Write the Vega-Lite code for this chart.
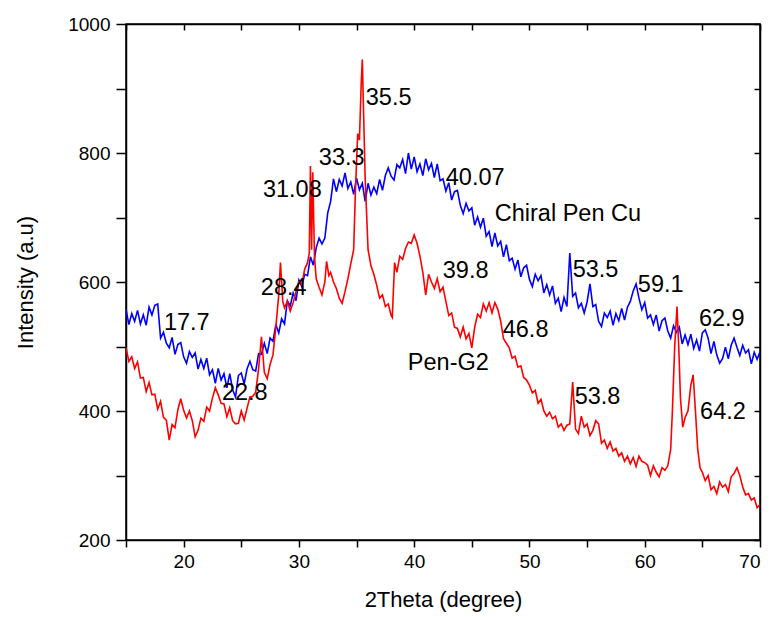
{
  "$schema": "https://vega.github.io/schema/vega-lite/v6.json",
  "width": 634,
  "height": 516,
  "autosize": {"type": "none"},
  "padding": {"left": 126, "top": 24, "right": 15, "bottom": 77},
  "background": "white",
  "config": {
    "font": "Liberation Sans",
    "view": {"stroke": "black", "strokeWidth": 1.5},
    "axis": {"grid": false, "domainColor": "black", "domainWidth": 1.5, "tickColor": "black", "tickWidth": 1.5, "labelColor": "black", "titleColor": "black", "labelFont": "Liberation Sans", "titleFont": "Liberation Sans", "titleFontWeight": "normal", "labelFontSize": 19, "titleFontSize": 22}
  },
  "datasets": {
    "blue": [
      {"x":15.00,"y":558},{"x":15.25,"y":534},{"x":15.50,"y":551},{"x":15.75,"y":539},{"x":16.00,"y":556},{"x":16.25,"y":535},{"x":16.50,"y":549},{"x":16.75,"y":533},{"x":17.00,"y":561},{"x":17.25,"y":549},{"x":17.50,"y":564},{"x":17.75,"y":566},{"x":18.00,"y":513},{"x":18.25,"y":522},{"x":18.50,"y":505},{"x":18.75,"y":498},{"x":19.00,"y":514},{"x":19.25,"y":488},{"x":19.50,"y":503},{"x":19.75,"y":506},{"x":20.00,"y":484},{"x":20.25,"y":474},{"x":20.50,"y":492},{"x":20.75,"y":483},{"x":21.00,"y":490},{"x":21.25,"y":465},{"x":21.50,"y":480},{"x":21.75,"y":466},{"x":22.00,"y":482},{"x":22.25,"y":456},{"x":22.50,"y":464},{"x":22.75,"y":443},{"x":23.00,"y":466},{"x":23.25,"y":448},{"x":23.50,"y":458},{"x":23.75,"y":436},{"x":24.00,"y":458},{"x":24.25,"y":433},{"x":24.50,"y":422},{"x":24.75,"y":455},{"x":25.00,"y":459},{"x":25.25,"y":442},{"x":25.50,"y":465},{"x":25.75,"y":477},{"x":26.00,"y":464},{"x":26.25,"y":462},{"x":26.50,"y":489},{"x":26.75,"y":488},{"x":27.00,"y":505},{"x":27.25,"y":489},{"x":27.50,"y":513},{"x":27.75,"y":508},{"x":28.00,"y":534},{"x":28.25,"y":521},{"x":28.50,"y":543},{"x":28.75,"y":535},{"x":29.00,"y":571},{"x":29.25,"y":563},{"x":29.50,"y":583},{"x":29.75,"y":571},{"x":30.00,"y":603},{"x":30.25,"y":593},{"x":30.50,"y":612},{"x":30.75,"y":610},{"x":31.00,"y":639},{"x":31.25,"y":626},{"x":31.50,"y":653},{"x":31.75,"y":668},{"x":32.00,"y":659},{"x":32.25,"y":668},{"x":32.50,"y":707},{"x":32.75,"y":725},{"x":33.00,"y":760},{"x":33.25,"y":740},{"x":33.50,"y":759},{"x":33.75,"y":749},{"x":34.00,"y":769},{"x":34.25,"y":745},{"x":34.50,"y":755},{"x":34.75,"y":736},{"x":35.00,"y":761},{"x":35.25,"y":743},{"x":35.50,"y":753},{"x":35.75,"y":725},{"x":36.00,"y":753},{"x":36.25,"y":735},{"x":36.50,"y":747},{"x":36.75,"y":737},{"x":37.00,"y":759},{"x":37.25,"y":742},{"x":37.50,"y":765},{"x":37.75,"y":777},{"x":38.00,"y":764},{"x":38.25,"y":758},{"x":38.50,"y":782},{"x":38.75,"y":777},{"x":39.00,"y":790},{"x":39.25,"y":768},{"x":39.50,"y":800},{"x":39.75,"y":775},{"x":40.00,"y":794},{"x":40.25,"y":771},{"x":40.50,"y":783},{"x":40.75,"y":765},{"x":41.00,"y":791},{"x":41.25,"y":774},{"x":41.50,"y":784},{"x":41.75,"y":762},{"x":42.00,"y":783},{"x":42.25,"y":757},{"x":42.50,"y":760},{"x":42.75,"y":741},{"x":43.00,"y":754},{"x":43.25,"y":727},{"x":43.50,"y":740},{"x":43.75,"y":742},{"x":44.00,"y":719},{"x":44.25,"y":706},{"x":44.50,"y":722},{"x":44.75,"y":710},{"x":45.00,"y":715},{"x":45.25,"y":688},{"x":45.50,"y":701},{"x":45.75,"y":685},{"x":46.00,"y":699},{"x":46.25,"y":671},{"x":46.50,"y":678},{"x":46.75,"y":655},{"x":47.00,"y":676},{"x":47.25,"y":656},{"x":47.50,"y":663},{"x":47.75,"y":639},{"x":48.00,"y":658},{"x":48.25,"y":633},{"x":48.50,"y":637},{"x":48.75,"y":620},{"x":49.00,"y":634},{"x":49.25,"y":608},{"x":49.50,"y":622},{"x":49.75,"y":626},{"x":50.00,"y":604},{"x":50.25,"y":593},{"x":50.50,"y":612},{"x":50.75,"y":602},{"x":51.00,"y":610},{"x":51.25,"y":583},{"x":51.50,"y":596},{"x":51.75,"y":580},{"x":52.00,"y":594},{"x":52.25,"y":567},{"x":52.50,"y":575},{"x":52.75,"y":554},{"x":53.00,"y":576},{"x":53.25,"y":562},{"x":53.50,"y":645},{"x":53.75,"y":578},{"x":54.00,"y":583},{"x":54.25,"y":560},{"x":54.50,"y":567},{"x":54.75,"y":552},{"x":55.00,"y":569},{"x":55.25,"y":597},{"x":55.50,"y":562},{"x":55.75,"y":565},{"x":56.00,"y":539},{"x":56.25,"y":531},{"x":56.50,"y":552},{"x":56.75,"y":545},{"x":57.00,"y":555},{"x":57.25,"y":533},{"x":57.50,"y":551},{"x":57.75,"y":540},{"x":58.00,"y":559},{"x":58.25,"y":541},{"x":58.50,"y":561},{"x":58.75,"y":570},{"x":59.00,"y":586},{"x":59.25,"y":597},{"x":59.50,"y":575},{"x":59.75,"y":557},{"x":60.00,"y":568},{"x":60.25,"y":544},{"x":60.50,"y":549},{"x":60.75,"y":534},{"x":61.00,"y":549},{"x":61.25,"y":524},{"x":61.50,"y":540},{"x":61.75,"y":544},{"x":62.00,"y":524},{"x":62.25,"y":513},{"x":62.50,"y":532},{"x":62.75,"y":522},{"x":63.00,"y":530},{"x":63.25,"y":504},{"x":63.50,"y":518},{"x":63.75,"y":503},{"x":64.00,"y":519},{"x":64.25,"y":497},{"x":64.50,"y":510},{"x":64.75,"y":493},{"x":65.00,"y":521},{"x":65.25,"y":526},{"x":65.50,"y":513},{"x":65.75,"y":489},{"x":66.00,"y":508},{"x":66.25,"y":487},{"x":66.50,"y":474},{"x":66.75,"y":481},{"x":67.00,"y":499},{"x":67.25,"y":481},{"x":67.50,"y":502},{"x":67.75,"y":513},{"x":68.00,"y":499},{"x":68.25,"y":486},{"x":68.50,"y":502},{"x":68.75,"y":490},{"x":69.00,"y":495},{"x":69.25,"y":473},{"x":69.50,"y":491},{"x":69.75,"y":480},{"x":70.00,"y":492}
    ],
    "red": [
      {"x":15.00,"y":498},{"x":15.25,"y":477},{"x":15.50,"y":484},{"x":15.75,"y":466},{"x":16.00,"y":476},{"x":16.25,"y":451},{"x":16.50,"y":452},{"x":16.75,"y":430},{"x":17.00,"y":444},{"x":17.25,"y":425},{"x":17.50,"y":426},{"x":17.75,"y":403},{"x":18.00,"y":415},{"x":18.25,"y":390},{"x":18.50,"y":386},{"x":18.75,"y":355},{"x":19.00,"y":379},{"x":19.25,"y":374},{"x":19.50,"y":402},{"x":19.75,"y":419},{"x":20.00,"y":401},{"x":20.25,"y":389},{"x":20.50,"y":400},{"x":20.75,"y":385},{"x":21.00,"y":360},{"x":21.25,"y":370},{"x":21.50,"y":389},{"x":21.75,"y":384},{"x":22.00,"y":406},{"x":22.25,"y":400},{"x":22.50,"y":420},{"x":22.75,"y":436},{"x":23.00,"y":425},{"x":23.25,"y":412},{"x":23.50,"y":411},{"x":23.75,"y":391},{"x":24.00,"y":405},{"x":24.25,"y":385},{"x":24.50,"y":380},{"x":24.75,"y":381},{"x":25.00,"y":400},{"x":25.25,"y":386},{"x":25.50,"y":404},{"x":25.75,"y":422},{"x":26.00,"y":423},{"x":26.25,"y":429},{"x":26.50,"y":465},{"x":26.75,"y":515},{"x":27.00,"y":460},{"x":27.25,"y":450},{"x":27.50,"y":472},{"x":27.75,"y":487},{"x":28.00,"y":530},{"x":28.25,"y":580},{"x":28.40,"y":630},{"x":28.60,"y":570},{"x":28.75,"y":560},{"x":29.00,"y":570},{"x":29.25,"y":555},{"x":29.50,"y":568},{"x":29.75,"y":585},{"x":30.00,"y":600},{"x":30.25,"y":596},{"x":30.50,"y":620},{"x":30.75,"y":630},{"x":30.90,"y":645},{"x":31.00,"y":780},{"x":31.10,"y":650},{"x":31.20,"y":770},{"x":31.35,"y":640},{"x":31.50,"y":605},{"x":31.75,"y":592},{"x":32.00,"y":580},{"x":32.25,"y":600},{"x":32.40,"y":632},{"x":32.60,"y":610},{"x":32.75,"y":615},{"x":33.00,"y":600},{"x":33.25,"y":590},{"x":33.50,"y":575},{"x":33.75,"y":567},{"x":34.00,"y":585},{"x":34.25,"y":605},{"x":34.50,"y":628},{"x":34.75,"y":650},{"x":34.90,"y":740},{"x":35.10,"y":830},{"x":35.25,"y":820},{"x":35.40,"y":905},{"x":35.50,"y":945},{"x":35.60,"y":870},{"x":35.75,"y":760},{"x":36.00,"y":650},{"x":36.25,"y":625},{"x":36.50,"y":612},{"x":36.75,"y":595},{"x":37.00,"y":575},{"x":37.25,"y":580},{"x":37.50,"y":562},{"x":37.75,"y":566},{"x":38.00,"y":548},{"x":38.10,"y":545},{"x":38.30,"y":630},{"x":38.50,"y":615},{"x":38.75,"y":640},{"x":39.00,"y":635},{"x":39.25,"y":652},{"x":39.50,"y":662},{"x":39.75,"y":660},{"x":40.00,"y":673},{"x":40.25,"y":660},{"x":40.50,"y":640},{"x":40.75,"y":615},{"x":41.00,"y":580},{"x":41.25,"y":612},{"x":41.50,"y":600},{"x":41.75,"y":590},{"x":42.00,"y":605},{"x":42.25,"y":585},{"x":42.50,"y":592},{"x":42.75,"y":570},{"x":43.00,"y":548},{"x":43.25,"y":552},{"x":43.50,"y":530},{"x":43.75,"y":528},{"x":44.00,"y":515},{"x":44.25,"y":530},{"x":44.50,"y":512},{"x":44.75,"y":520},{"x":45.00,"y":498},{"x":45.25,"y":530},{"x":45.50,"y":550},{"x":45.75,"y":545},{"x":46.00,"y":566},{"x":46.25,"y":555},{"x":46.50,"y":568},{"x":46.75,"y":552},{"x":47.00,"y":568},{"x":47.25,"y":558},{"x":47.50,"y":540},{"x":47.75,"y":512},{"x":48.00,"y":505},{"x":48.25,"y":498},{"x":48.50,"y":482},{"x":48.75,"y":485},{"x":49.00,"y":468},{"x":49.25,"y":470},{"x":49.50,"y":452},{"x":49.75,"y":448},{"x":50.00,"y":440},{"x":50.25,"y":428},{"x":50.50,"y":432},{"x":50.75,"y":412},{"x":51.00,"y":418},{"x":51.25,"y":400},{"x":51.50,"y":392},{"x":51.75,"y":398},{"x":52.00,"y":388},{"x":52.25,"y":392},{"x":52.50,"y":375},{"x":52.75,"y":380},{"x":53.00,"y":370},{"x":53.25,"y":378},{"x":53.50,"y":380},{"x":53.75,"y":445},{"x":54.00,"y":372},{"x":54.25,"y":365},{"x":54.50,"y":392},{"x":54.75,"y":375},{"x":55.00,"y":380},{"x":55.25,"y":362},{"x":55.50,"y":370},{"x":55.75,"y":385},{"x":56.00,"y":380},{"x":56.25,"y":350},{"x":56.50,"y":355},{"x":56.75,"y":342},{"x":57.00,"y":352},{"x":57.25,"y":338},{"x":57.50,"y":342},{"x":57.75,"y":330},{"x":58.00,"y":335},{"x":58.25,"y":322},{"x":58.50,"y":330},{"x":58.75,"y":318},{"x":59.00,"y":328},{"x":59.25,"y":314},{"x":59.50,"y":330},{"x":59.75,"y":322},{"x":60.00,"y":320},{"x":60.25,"y":316},{"x":60.50,"y":300},{"x":60.75,"y":315},{"x":61.00,"y":305},{"x":61.25,"y":298},{"x":61.50,"y":312},{"x":61.75,"y":308},{"x":62.00,"y":315},{"x":62.25,"y":340},{"x":62.40,"y":400},{"x":62.60,"y":500},{"x":62.80,"y":562},{"x":62.95,"y":500},{"x":63.10,"y":420},{"x":63.30,"y":375},{"x":63.50,"y":390},{"x":63.75,"y":400},{"x":64.00,"y":440},{"x":64.20,"y":456},{"x":64.40,"y":400},{"x":64.60,"y":340},{"x":64.80,"y":312},{"x":65.00,"y":305},{"x":65.25,"y":292},{"x":65.50,"y":300},{"x":65.75,"y":278},{"x":66.00,"y":283},{"x":66.25,"y":272},{"x":66.50,"y":290},{"x":66.75,"y":282},{"x":67.00,"y":286},{"x":67.25,"y":275},{"x":67.50,"y":298},{"x":67.75,"y":303},{"x":68.00,"y":312},{"x":68.25,"y":300},{"x":68.50,"y":282},{"x":68.75,"y":270},{"x":69.00,"y":272},{"x":69.25,"y":262},{"x":69.50,"y":265},{"x":69.75,"y":250},{"x":70.00,"y":255}
    ],
    "labels": [
      {"x":18.29,"y":536,"t":"17.7"},
      {"x":23.32,"y":428,"t":"22.8"},
      {"x":26.70,"y":590,"t":"28.4"},
      {"x":26.88,"y":743,"t":"31.08"},
      {"x":31.73,"y":792,"t":"33.3"},
      {"x":35.80,"y":885,"t":"35.5"},
      {"x":42.74,"y":761,"t":"40.07"},
      {"x":46.99,"y":705,"t":"Chiral Pen Cu"},
      {"x":42.48,"y":617,"t":"39.8"},
      {"x":47.68,"y":526,"t":"46.8"},
      {"x":39.45,"y":474,"t":"Pen-G2"},
      {"x":53.92,"y":422,"t":"53.8"},
      {"x":53.75,"y":619,"t":"53.5"},
      {"x":59.40,"y":596,"t":"59.1"},
      {"x":64.70,"y":543,"t":"62.9"},
      {"x":64.80,"y":398,"t":"64.2"}
    ]
  },
  "layer": [
    {
      "data": {"name": "blue"},
      "mark": {"type": "line", "color": "#0000FF", "strokeWidth": 1.6, "clip": true},
      "encoding": {
        "x": {"field": "x", "type": "quantitative", "scale": {"domain": [15, 70], "nice": false, "zero": false},
          "axis": {"title": "2Theta (degree)", "format": "d", "values": [15,20,25,30,35,40,45,50,55,60,65,70], "labelExpr": "datum.value % 10 === 0 ? datum.label : ''", "tickSize": 7, "labelPadding": 5, "titlePadding": 18}},
        "y": {"field": "y", "type": "quantitative", "scale": {"domain": [200, 1000], "nice": false, "zero": false},
          "axis": {"title": "Intensity (a.u)", "format": "d", "values": [200,300,400,500,600,700,800,900,1000], "labelExpr": "datum.value % 200 === 0 ? datum.label : ''", "tickSize": 10, "labelPadding": 6, "titlePadding": 30}}
      }
    },
    {
      "data": {"name": "red"},
      "mark": {"type": "line", "color": "#FF0000", "strokeWidth": 1.6, "clip": true},
      "encoding": {
        "x": {"field": "x", "type": "quantitative",
          "axis": {"orient": "top", "title": null, "labels": false, "values": [15,20,25,30,35,40,45,50,55,60,65,70], "tickSize": -6}},
        "y": {"field": "y", "type": "quantitative",
          "axis": {"orient": "right", "title": null, "labels": false, "values": [200,300,400,500,600,700,800,900,1000], "tickSize": -6}}
      }
    },
    {
      "data": {"name": "labels"},
      "mark": {"type": "text", "align": "left", "baseline": "middle", "font": "Liberation Sans", "fontSize": 23.5, "color": "black"},
      "encoding": {
        "x": {"field": "x", "type": "quantitative", "axis": null},
        "y": {"field": "y", "type": "quantitative", "axis": null},
        "text": {"field": "t"}
      }
    }
  ],
  "resolve": {"axis": {"x": "independent", "y": "independent"}}
}
